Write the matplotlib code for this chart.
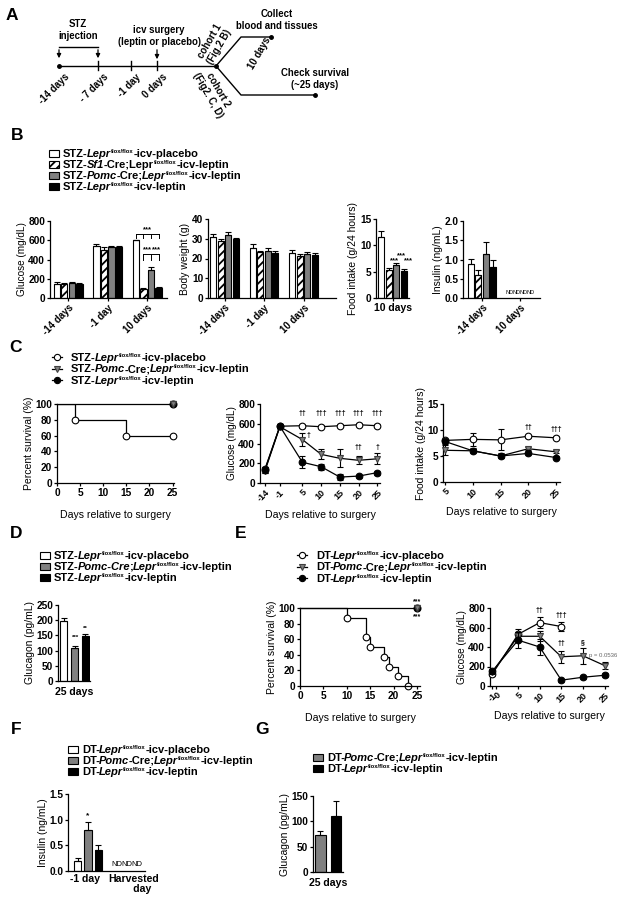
import numpy as np
import matplotlib.pyplot as plt
from matplotlib.patches import Rectangle

plt.rcParams['font.family'] = ['Liberation Sans', 'DejaVu Sans']
plt.rcParams['font.weight'] = 'bold'
plt.rcParams['axes.linewidth'] = 0.9
plt.rcParams['hatch.linewidth'] = 1.3

# ---------------- data ----------------
# panel A (schematic timeline)
tl_pos = [59, 98, 131, 157]
tl_labels = ['-14 days', '- 7 days', '-1 day', '0 days']

# panel B : rows = placebo, Sf1-Cre, Pomc-Cre, leptin ; cols = -14 d, -1 d, 10 d
b_groups = ['-14 days', '-1 day', '10 days']
b_glucose = np.array([[150, 540, 600], [150, 495, 90], [160, 530, 290], [150, 530, 100]])
b_glucose_err = np.array([[15, 20, 5], [10, 35, 12], [10, 15, 30], [8, 12, 15]])
b_bw = np.array([[31, 25.5, 23], [29, 23.5, 21.5], [32, 24, 22.5], [30, 23, 22]])
b_bw_err = np.array([[1.3, 1.6, 1.3], [1.0, 0.4, 1.0], [1.5, 1.3, 0.8], [0.6, 0.8, 0.8]])
b_food = [11.5, 5.3, 6.2, 5.1]
b_food_err = [1.3, 0.4, 0.4, 0.5]
b_ins_groups = ['-14 days', '10 days']
b_ins = [0.88, 0.6, 1.15, 0.8]
b_ins_err = [0.13, 0.12, 0.3, 0.2]

# panel C
surv_c_days = [0, 4, 15, 25]
surv_c_placebo = [100, 80, 60, 60]
surv_c_leptin_days = [0, 25]
surv_c_leptin = [100, 100]
c_days = ['-14', '-1', '5', '10', '15', '20', '25']
c_pos = [-5, -1, 5, 10, 15, 20, 25]   # axis is compressed before -1
c_glu_placebo = [140, 575, 580, 570, 580, 590, 580]
c_glu_placebo_err = [20, 20, 20, 15, 15, 15, 15]
c_glu_pomc = [120, 570, 440, 290, 250, 230, 245]
c_glu_pomc_err = [20, 20, 70, 50, 90, 40, 55]
c_glu_leptin = [130, 575, 210, 165, 60, 70, 105]
c_glu_leptin_err = [30, 20, 60, 30, 30, 15, 20]
c_food_days = [5, 10, 15, 20, 25]
c_food_placebo = [8.0, 8.2, 8.1, 8.8, 8.5]
c_food_placebo_err = [0.3, 1.3, 2.0, 0.3, 0.3]
c_food_pomc = [6.1, 6.0, 5.0, 6.4, 5.8]
c_food_pomc_err = [1.0, 0.4, 0.3, 0.3, 0.3]
c_food_leptin = [7.8, 6.0, 5.0, 5.5, 4.7]
c_food_leptin_err = [0.5, 0.3, 0.3, 0.3, 0.3]

# panel D
d_glucagon = [198, 108, 148]
d_glucagon_err = [8, 7, 8]

# panel E
surv_e_days = [0, 10, 14, 15, 18, 19, 21, 23]
surv_e_placebo = [100, 87.5, 62.5, 50, 37.5, 25, 12.5, 0]
surv_e_leptin_days = [0, 25]
surv_e_leptin = [100, 100]
e_days_placebo = [-1, 5, 10, 15]
e_glu_placebo = [120, 530, 650, 610]
e_glu_placebo_err = [20, 50, 55, 45]
e_days = [-1, 5, 10, 15, 20, 25]
e_glu_pomc = [140, 510, 510, 300, 310, 210]
e_glu_pomc_err = [20, 40, 50, 60, 80, 40]
e_glu_leptin = [150, 470, 400, 60, 90, 110]
e_glu_leptin_err = [20, 80, 80, 15, 15, 20]

# panel F
f_ins = [0.2, 0.8, 0.41]
f_ins_err = [0.05, 0.15, 0.1]

# panel G
g_glucagon = [73, 111]
g_glucagon_err = [7, 29]

GRAY = '#808080'

# ---------------- legend labels (n = normal, i = italic, s = superscript) ----------------
LEPR = [('Lepr', 'i'), ('flox/flox', 's')]
lab_b = [[('STZ-', 'n')] + LEPR + [('-icv-placebo', 'n')],
         [('STZ-', 'n'), ('Sf1', 'i'), ('-Cre;Lepr', 'n'), ('flox/flox', 's'), ('-icv-leptin', 'n')],
         [('STZ-', 'n'), ('Pomc', 'i'), ('-Cre;', 'n')] + LEPR + [('-icv-leptin', 'n')],
         [('STZ-', 'n')] + LEPR + [('-icv-leptin', 'n')]]
lab_c = [lab_b[0], lab_b[2], lab_b[3]]
lab_d = [lab_b[0],
         [('STZ-', 'n'), ('Pomc-Cre', 'i'), (';', 'n')] + LEPR + [('-icv-leptin', 'n')],
         lab_b[3]]
lab_e = [[('DT-', 'n')] + LEPR + [('-icv-placebo', 'n')],
         [('DT-', 'n'), ('Pomc', 'i'), ('-Cre;', 'n')] + LEPR + [('-icv-leptin', 'n')],
         [('DT-', 'n')] + LEPR + [('-icv-leptin', 'n')]]
lab_g = lab_e[1:]

W, H = 624, 900
fig = plt.figure(figsize=(6.24, 9), dpi=100)
renderer = fig.canvas.get_renderer()

ov = fig.add_axes([0, 0, 1, 1])
ov.set_xlim(0, W)
ov.set_ylim(H, 0)
ov.axis('off')
ov.set_zorder(10)
ov.patch.set_visible(False)


def rich(x, yc, parts, size=8):
    base = yc + 3.9
    prev = None
    for s, kind in parts:
        if kind == 'i' and prev == 'n':
            x -= 1.2
        if kind == 's':
            t = ov.text(x + 0.3, base - 4.3, s, fontsize=size * 0.53, ha='left', va='baseline')
        else:
            t = ov.text(x, base, s, fontsize=size, ha='left', va='baseline',
                        style='italic' if kind == 'i' else 'normal')
        x += t.get_window_extent(renderer).width
        prev = kind


def px_ax(x0, y0, x1, y1):
    ax = fig.add_axes([x0 / W, 1 - y1 / H, (x1 - x0) / W, (y1 - y0) / H])
    ax.spines[['top', 'right']].set_visible(False)
    ax.tick_params(direction='out', length=2.5, width=0.9, labelsize=7.3, pad=1)
    ax.patch.set_visible(False)
    return ax


bar_styles = [dict(color='white'), dict(color='white', hatch='////'),
              dict(color=GRAY), dict(color='black')]


def bars(ax, x, vals, errs, style, width):
    x = np.atleast_1d(x)
    vals = np.atleast_1d(np.asarray(vals, dtype=float))
    errs = np.atleast_1d(np.asarray(errs, dtype=float))
    ax.bar(x, vals, width, color=style['color'], hatch=style.get('hatch'),
           edgecolor='k', lw=0.8)
    ax.errorbar(x, vals, yerr=[np.zeros_like(errs), errs], fmt='none', ecolor='k',
                elinewidth=0.8, capsize=2, capthick=0.8)


def bar_legend(x, y0, styles, labels, dy=11):
    for i, (st, lab) in enumerate(zip(styles, labels)):
        y = y0 + i * dy
        ov.add_patch(Rectangle((x, y - 3.5), 10, 7, facecolor=st['color'],
                               edgecolor='k', hatch=st.get('hatch'), lw=0.8))
        rich(x + 14, y, lab)


line_styles = [dict(marker='o', mfc='white', mec='k'),
               dict(marker='v', mfc=GRAY, mec='#404040'),
               dict(marker='o', mfc='black', mec='k')]


def line_legend(x, y0, labels, dy=11.5):
    for i, (st, lab) in enumerate(zip(line_styles, labels)):
        y = y0 + i * dy
        ov.plot([x - 5, x + 5], [y, y], color='k', lw=0.9)
        ov.plot([x], [y], marker=st['marker'], mfc=st['mfc'], mec=st['mec'], ms=4.5, mew=0.8)
        rich(x + 14, y, lab)


def line_series(ax, x, y, e, st, z):
    ax.errorbar(x, y, yerr=e, color='k', lw=0.9, ecolor='k', elinewidth=0.8,
                capsize=2.5, capthick=0.8, marker=st['marker'], mfc=st['mfc'],
                mec=st['mec'], ms=4.8, mew=0.8, zorder=z, clip_on=False)


for letter, (lx, ly) in zip('ABCDEFG', [(12, 16), (17, 136), (16, 347), (16, 534),
                                        (241, 534), (16, 730), (262, 730)]):
    ov.text(lx, ly, letter, fontsize=12.5, ha='center', va='center')

# ---------------- panel A ----------------
fa = 6.9
ov.plot([tl_pos[0], 216], [66, 66], color='k', lw=1)
ov.plot([tl_pos[0], 216], [66, 66], 'o', color='k', ms=2.5)
for xp, lab in zip(tl_pos, tl_labels):
    if xp != tl_pos[0]:
        ov.plot([xp, xp], [61, 70], color='k', lw=1)
    ov.text(xp + 5, 72, lab, rotation=45, ha='right', va='top',
            rotation_mode='anchor', fontsize=fa)
ov.plot([tl_pos[0], tl_pos[1]], [47, 47], color='k', lw=1)
for xp in tl_pos[:2]:
    ov.annotate('', xy=(xp, 61), xytext=(xp, 47),
                arrowprops=dict(arrowstyle='-|>', lw=0.9, color='k', mutation_scale=6))
ov.annotate('', xy=(tl_pos[3], 62), xytext=(tl_pos[3], 47),
            arrowprops=dict(arrowstyle='-|>', lw=0.9, color='k', mutation_scale=6))
ov.text(78, 30, 'STZ\ninjection', ha='center', va='center', fontsize=fa, linespacing=1.3)
ov.text(159, 36, 'icv surgery\n(leptin or placebo)', ha='center', va='center',
        fontsize=fa, linespacing=1.3)
ov.plot([216, 241, 271], [66, 37, 37], color='k', lw=1)
ov.plot([216, 241, 315], [66, 95, 95], color='k', lw=1)
ov.plot([271, 315], [37, 95], 'o', color='k', ms=2.5, ls='none')
ov.text(215, 44, 'cohort 1\n(Fig.2 B)', rotation=60, ha='center', va='center',
        fontsize=fa, linespacing=1.1)
ov.text(213, 93, 'cohort 2\n(Fig2. C, D)', rotation=-60, ha='center', va='center',
        fontsize=fa, linespacing=1.1)
ov.text(260, 53, '10 days', rotation=60, ha='center', va='center', fontsize=fa)
ov.text(277, 20, 'Collect\nblood and tissues', ha='center', va='center',
        fontsize=fa, linespacing=1.3)
ov.text(315, 79, 'Check survival\n(~25 days)', ha='center', va='center',
        fontsize=fa, linespacing=1.3)

# ---------------- panel B ----------------
bar_legend(49, 153, bar_styles, lab_b, dy=11)
off = np.array([-1.5, -0.5, 0.5, 1.5]) * 0.19
bw = 0.155
gx = np.arange(3)

ax = px_ax(50, 221, 167, 298)
for i in range(4):
    bars(ax, gx + off[i], b_glucose[i], b_glucose_err[i], bar_styles[i], bw)
ax.set_xlim(-0.46, 2.5)
ax.set_ylim(0, 800)
ax.set_yticks([0, 200, 400, 600, 800])
ax.set_xticks(gx)
ax.set_xticklabels(b_groups, rotation=45, ha='right', rotation_mode='anchor', fontsize=7)
ax.set_ylabel('Glucose (mg/dL)', fontsize=7.2, labelpad=1)
x3 = 2 + off
ax.plot([x3[0], x3[3]], [665, 665], color='k', lw=0.7)
for xx in x3:
    ax.plot([xx, xx], [665, 625], color='k', lw=0.7)
ax.text(2, 675, '***', ha='center', va='bottom', fontsize=5.5)
ax.plot([x3[1], x3[3]], [455, 455], color='k', lw=0.7)
for xx in x3[1:]:
    ax.plot([xx, xx], [455, 395], color='k', lw=0.7)
ax.text((x3[1] + x3[2]) / 2, 465, '***', ha='center', va='bottom', fontsize=5.5)
ax.text((x3[2] + x3[3]) / 2 + 0.04, 465, '***', ha='center', va='bottom', fontsize=5.5)

ax = px_ax(208, 219, 336, 298)
for i in range(4):
    bars(ax, gx + off[i], b_bw[i], b_bw_err[i], bar_styles[i], bw)
ax.set_xlim(-0.42, 2.82)
ax.set_ylim(0, 40)
ax.set_yticks([0, 10, 20, 30, 40])
ax.set_xticks(gx)
ax.set_xticklabels(b_groups, rotation=45, ha='right', rotation_mode='anchor', fontsize=7)
ax.set_ylabel('Body weight (g)', fontsize=7.5, labelpad=1)

ax = px_ax(376, 219, 409, 298)
for i in range(4):
    bars(ax, off[i], b_food[i], b_food_err[i], bar_styles[i], bw)
    if i > 0:
        ax.text(off[i] + 0.02, b_food[i] + b_food_err[i] + 0.8, '***', ha='left',
                va='bottom', fontsize=5.5)
ax.set_xlim(-0.42, 0.42)
ax.set_ylim(0, 15)
ax.set_yticks([0, 5, 10, 15])
ax.set_xticks([0])
ax.set_xticklabels(['10 days'], fontsize=7.5)
ax.set_ylabel('Food intake (g/24 hours)', fontsize=7.5, labelpad=1)

ax = px_ax(463, 221, 540, 298)
for i in range(4):
    bars(ax, off[i], b_ins[i], b_ins_err[i], bar_styles[i], bw)
    ax.text(1 + off[i], 0.07, 'ND', ha='center', va='bottom', fontsize=4,
            fontweight='normal')
ax.set_xlim(-0.5, 1.53)
ax.set_ylim(0, 2.0)
ax.set_yticks([0, 0.5, 1.0, 1.5, 2.0])
ax.set_yticklabels(['0.0', '0.5', '1.0', '1.5', '2.0'])
ax.set_xticks([0, 1])
ax.set_xticklabels(b_ins_groups, rotation=45, ha='right', rotation_mode='anchor', fontsize=7)
ax.set_ylabel('Insulin (ng/mL)', fontsize=7.5, labelpad=1)

# ---------------- panel C ----------------
line_legend(57, 357, lab_c)

ax = px_ax(57, 404, 174, 483)
ax.step(surv_c_days, surv_c_placebo, where='post', color='k', lw=0.9)
ax.plot(surv_c_days[1:], surv_c_placebo[1:], 'o', mfc='white', mec='k', ms=4.8,
        mew=0.8, clip_on=False)
ax.plot(surv_c_leptin_days, surv_c_leptin, color='k', lw=0.9, clip_on=False)
ax.plot([surv_c_leptin_days[-1]], [surv_c_leptin[-1]], 'o', mfc='black', mec='k',
        ms=4.8, clip_on=False)
ax.plot([surv_c_leptin_days[-1]], [surv_c_leptin[-1]], 'v', mfc=GRAY, mec='#404040',
        ms=4.5, clip_on=False)
ax.set_xlim(0, 25.3)
ax.set_ylim(0, 100)
ax.set_xticks([0, 5, 10, 15, 20, 25])
ax.set_yticks([0, 20, 40, 60, 80, 100])
ax.set_ylabel('Percent survival (%)', fontsize=7.5, labelpad=1)
ax.set_xlabel('Days relative to surgery', fontsize=7.6, labelpad=9)

ax = px_ax(260, 404, 380, 483)
line_series(ax, c_pos, c_glu_placebo, c_glu_placebo_err, line_styles[0], 3)
line_series(ax, c_pos, c_glu_pomc, c_glu_pomc_err, line_styles[1], 4)
line_series(ax, c_pos, c_glu_leptin, c_glu_leptin_err, line_styles[2], 5)
for xp, s in zip(c_pos[2:], ['††', '†††', '†††', '†††', '†††']):
    ax.text(xp, 665, s, ha='center', va='bottom', fontsize=5)
ax.text(c_pos[2] + 1.0, 445, '†', ha='left', va='bottom', fontsize=5)
ax.text(c_pos[5], 320, '††', ha='center', va='bottom', fontsize=5)
ax.text(c_pos[6], 320, '†', ha='center', va='bottom', fontsize=5)
ax.set_xlim(-6.3, 25.7)
ax.set_ylim(0, 800)
ax.set_yticks([0, 200, 400, 600, 800])
ax.set_xticks(c_pos)
ax.set_xticklabels(c_days, rotation=45, ha='right', rotation_mode='anchor', fontsize=6.5)
ax.set_ylabel('Glucose (mg/dL)', fontsize=7.2, labelpad=1)
ax.set_xlabel('Days relative to surgery', fontsize=7.6, labelpad=5)

ax = px_ax(443, 404, 560, 482)
line_series(ax, c_food_days, c_food_placebo, c_food_placebo_err, line_styles[0], 3)
line_series(ax, c_food_days, c_food_pomc, c_food_pomc_err, line_styles[1], 4)
line_series(ax, c_food_days, c_food_leptin, c_food_leptin_err, line_styles[2], 5)
ax.text(20, 9.8, '††', ha='center', va='bottom', fontsize=5)
ax.text(25, 9.5, '†††', ha='center', va='bottom', fontsize=5)
ax.set_xlim(4.65, 25.7)
ax.set_ylim(0, 15)
ax.set_yticks([0, 5, 10, 15])
ax.set_xticks(c_food_days)
ax.set_xticklabels(c_food_days, rotation=45, ha='right', rotation_mode='anchor', fontsize=6.5)
ax.set_ylabel('Food intake (g/24 hours)', fontsize=7.5, labelpad=1)
ax.set_xlabel('Days relative to surgery', fontsize=7.6, labelpad=5)

# ---------------- panel D ----------------
bar_legend(40, 555, [bar_styles[0], bar_styles[2], bar_styles[3]], lab_d, dy=11)
ax = px_ax(58, 605, 90, 681)
for i, st in enumerate([bar_styles[0], bar_styles[2], bar_styles[3]]):
    bars(ax, i, d_glucagon[i], d_glucagon_err[i], st, 0.68)
ax.text(1.05, 135, '***', ha='center', va='bottom', fontsize=4.5)
ax.text(2, 165, '**', ha='center', va='bottom', fontsize=4.5)
ax.set_xlim(-0.55, 2.45)
ax.set_ylim(0, 250)
ax.set_yticks([0, 50, 100, 150, 200, 250])
ax.set_xticks([1])
ax.set_xticklabels(['25 days'], fontsize=7.6)
ax.tick_params(axis='x', length=0, pad=4)
ax.set_ylabel('Glucagon (pg/mL)', fontsize=7.5, labelpad=1)

# ---------------- panel E ----------------
line_legend(302, 555, lab_e)
ax = px_ax(300, 608, 420, 686)
ax.step(surv_e_days, surv_e_placebo, where='post', color='k', lw=0.9, clip_on=False)
ax.plot(surv_e_days[1:], surv_e_placebo[1:], 'o', mfc='white', mec='k', ms=4.8,
        mew=0.8, clip_on=False)
ax.plot(surv_e_leptin_days, surv_e_leptin, color='k', lw=0.9, clip_on=False)
ax.plot([surv_e_leptin_days[-1]], [surv_e_leptin[-1]], 'o', mfc='black', mec='k',
        ms=4.8, clip_on=False)
ax.plot([surv_e_leptin_days[-1]], [surv_e_leptin[-1]], 'v', mfc=GRAY, mec='#404040',
        ms=4.5, clip_on=False)
ax.text(25, 104, '***', ha='center', va='bottom', fontsize=5)
ax.text(25, 84, '***', ha='center', va='bottom', fontsize=5)
ax.set_xlim(0, 25.6)
ax.set_ylim(0, 100)
ax.set_xticks([0, 5, 10, 15, 20, 25])
ax.set_yticks([0, 20, 40, 60, 80, 100])
ax.set_ylabel('Percent survival (%)', fontsize=7.5, labelpad=1)
ax.set_xlabel('Days relative to surgery', fontsize=7.6, labelpad=9)

ax = px_ax(490, 608, 608, 686)
line_series(ax, e_days_placebo, e_glu_placebo, e_glu_placebo_err, line_styles[0], 3)
line_series(ax, e_days, e_glu_pomc, e_glu_pomc_err, line_styles[1], 4)
line_series(ax, e_days, e_glu_leptin, e_glu_leptin_err, line_styles[2], 5)
ax.text(10, 735, '††', ha='center', va='bottom', fontsize=5)
ax.text(15, 690, '†††', ha='center', va='bottom', fontsize=5)
ax.text(15, 400, '††', ha='center', va='bottom', fontsize=5)
ax.text(20, 410, '§', ha='center', va='bottom', fontsize=5)
ax.text(21.3, 310, 'p = 0.0536', ha='left', va='center', fontsize=4.3,
        color='#666666', fontweight='normal')
ax.set_xlim(-1.5, 25.8)
ax.set_ylim(0, 800)
ax.set_yticks([0, 200, 400, 600, 800])
ax.set_xticks([-1, 0, 5, 10, 15, 20, 25])
ax.set_xticklabels(['-1', '0', '5', '10', '15', '20', '25'], rotation=45, ha='right',
                   rotation_mode='anchor', fontsize=6.5)
ax.set_ylabel('Glucose (mg/dL)', fontsize=7.2, labelpad=1)
ax.set_xlabel('Days relative to surgery', fontsize=7.6, labelpad=5)

# ---------------- panel F ----------------
bar_legend(68, 749, [bar_styles[0], bar_styles[2], bar_styles[3]], lab_e, dy=11)
ax = px_ax(68, 794, 145, 871)
for i, st in enumerate([bar_styles[0], bar_styles[2], bar_styles[3]]):
    bars(ax, i - 1, f_ins[i], f_ins_err[i], st, 0.72)
    ax.text(2.75 + i, 0.06, 'ND', ha='center', va='bottom', fontsize=5.5,
            fontweight='normal')
ax.text(0, f_ins[1] + f_ins_err[1] + 0.05, '*', ha='center', va='bottom', fontsize=6)
ax.set_xlim(-1.94, 5.5)
ax.set_ylim(0, 1.5)
ax.set_yticks([0, 0.5, 1.0, 1.5])
ax.set_yticklabels(['0.0', '0.5', '1.0', '1.5'])
ax.set_xticks([-0.3, 4.4])
ax.set_xticklabels(['-1 day', 'Harvested\n      day'], fontsize=7.6, linespacing=1.0)
ax.tick_params(axis='x', length=0, pad=2)
ax.set_ylabel('Insulin (ng/mL)', fontsize=7.5, labelpad=1)

# ---------------- panel G ----------------
bar_legend(313, 757, [bar_styles[2], bar_styles[3]], lab_g, dy=11)
ax = px_ax(313, 796, 343, 872)
for i, st in enumerate([bar_styles[2], bar_styles[3]]):
    bars(ax, i, g_glucagon[i], g_glucagon_err[i], st, 0.7)
ax.set_xlim(-0.48, 1.45)
ax.set_ylim(0, 150)
ax.set_yticks([0, 50, 100, 150])
ax.set_xticks([0.5])
ax.set_xticklabels(['25 days'], fontsize=7.6)
ax.tick_params(axis='x', length=0, pad=4)
ax.set_ylabel('Glucagon (pg/mL)', fontsize=7.5, labelpad=1)

fig.savefig('out.png', dpi=100)
